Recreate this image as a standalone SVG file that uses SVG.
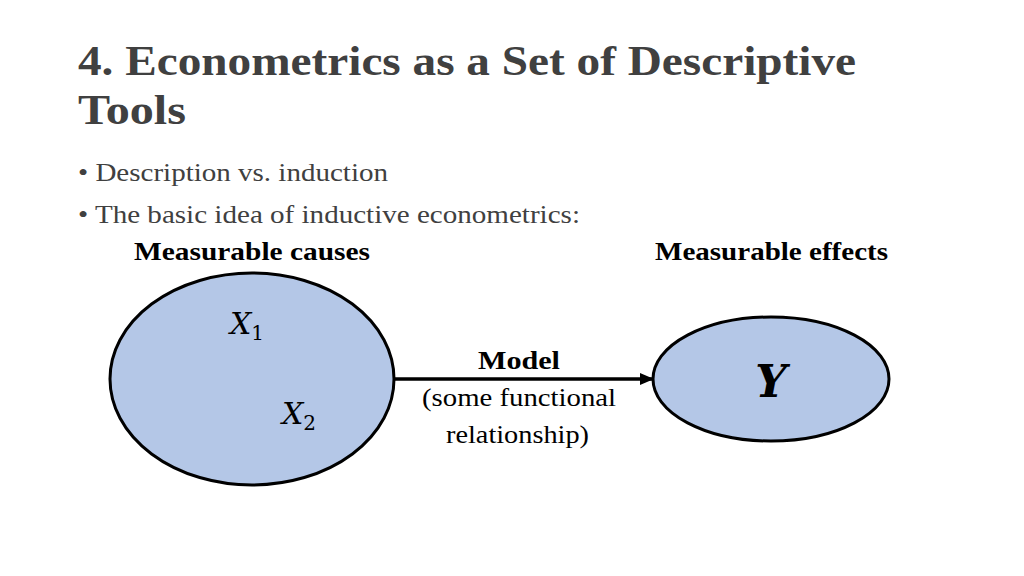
<svg xmlns="http://www.w3.org/2000/svg" width="1024" height="576" viewBox="0 0 1024 576">
<style>
.t{font-family:"Liberation Serif",serif;fill:#404040}
.b{font-family:"Liberation Serif",serif;font-weight:bold;fill:#000}
.n{font-family:"Liberation Serif",serif;fill:#000}
.m{font-family:"DejaVu Serif","Liberation Serif",serif;font-style:italic;fill:#000}
.e{fill:#b4c7e7;stroke:#000;stroke-width:3}
</style>
<defs><marker id="a" markerWidth="14" markerHeight="12" refX="12" refY="6" orient="auto" markerUnits="userSpaceOnUse"><path d="M0,0 L14,6 L0,12z" fill="#000"/></marker></defs>
<rect width="1024" height="576" fill="#fff"/>
<text class="t" x="78" y="75" font-size="42" font-weight="bold" textLength="778" lengthAdjust="spacingAndGlyphs">4. Econometrics as a Set of Descriptive</text>
<text class="t" x="78" y="124" font-size="42" font-weight="bold" textLength="108" lengthAdjust="spacingAndGlyphs">Tools</text>
<text class="t" x="78" y="181" font-size="26" textLength="310" lengthAdjust="spacingAndGlyphs">• Description vs. induction</text>
<text class="t" x="78" y="223" font-size="26" textLength="502" lengthAdjust="spacingAndGlyphs">• The basic idea of inductive econometrics:</text>
<text class="b" x="134" y="260" font-size="25" textLength="236" lengthAdjust="spacingAndGlyphs">Measurable causes</text>
<text class="b" x="655" y="260" font-size="25" textLength="233" lengthAdjust="spacingAndGlyphs">Measurable effects</text>
<g id="connectors"><line x1="394" y1="379" x2="652" y2="379" stroke="#000" stroke-width="3.5" marker-end="url(#a)"/></g>
<g id="causes"><ellipse class="e" cx="252" cy="379" rx="142" ry="106"/>
<text class="m" x="230" y="334" font-size="30">X<tspan font-style="normal" font-size="20" dy="6">1</tspan></text>
<text class="m" x="282" y="424" font-size="30">X<tspan font-style="normal" font-size="20" dy="6">2</tspan></text></g>
<g id="effects"><ellipse class="e" cx="771" cy="379" rx="118" ry="62"/>
<text class="m" x="771" y="397" font-size="44" font-weight="bold" text-anchor="middle">Y</text></g>
<g id="label"><text class="b" x="478" y="369" font-size="25" textLength="82" lengthAdjust="spacingAndGlyphs">Model</text>
<text class="n" x="422" y="406" font-size="25" textLength="194" lengthAdjust="spacingAndGlyphs">(some functional</text>
<text class="n" x="446" y="443" font-size="25" textLength="143" lengthAdjust="spacingAndGlyphs">relationship)</text></g>
</svg>
